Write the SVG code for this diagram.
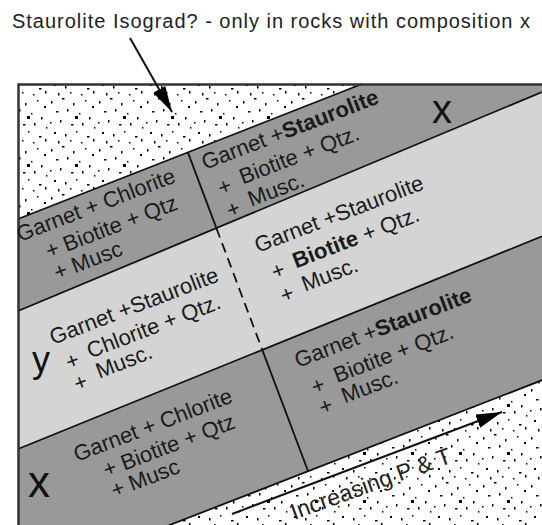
<svg xmlns="http://www.w3.org/2000/svg" width="542" height="525" viewBox="0 0 542 525">
<defs>
<style>
.t{font-family:"Liberation Sans",Arial,sans-serif;font-size:22px;fill:#1a1a1a}
.b{font-weight:bold}
.big{font-family:"Liberation Sans",Arial,sans-serif;fill:#111}
.edge{stroke:#111;stroke-width:1.8;fill:none}
.dark{fill:#999}
.light{fill:#d4d4d4}
.conn{stroke:#111;stroke-width:2;fill:none;marker-end:url(#ah)}
</style>
<pattern id="stip" width="48" height="48" patternUnits="userSpaceOnUse">
<rect width="48" height="48" fill="#fff"/>
<g fill="#000">
<rect x="3" y="5" width="1.5" height="2.5"/><rect x="14" y="2" width="2.5" height="1.5"/><rect x="25" y="7" width="1.5" height="2.5"/><rect x="37" y="4" width="1.5" height="1.5"/><rect x="44" y="10" width="2" height="2"/><rect x="8" y="15" width="2.5" height="1.5"/><rect x="19" y="13" width="1.5" height="2.5"/><rect x="31" y="17" width="1.5" height="1.5"/><rect x="41" y="21" width="1.5" height="2.5"/><rect x="2" y="26" width="1.5" height="1.5"/><rect x="12" y="24" width="1.5" height="2.5"/><rect x="23" y="28" width="2.5" height="1.5"/><rect x="34" y="27" width="1.5" height="2.5"/><rect x="46" y="31" width="1.5" height="1.5"/><rect x="6" y="36" width="2" height="2"/><rect x="17" y="38" width="1.5" height="2.5"/><rect x="28" y="35" width="1.5" height="1.5"/><rect x="39" y="40" width="2.5" height="1.5"/><rect x="10" y="45" width="1.5" height="2.5"/><rect x="22" y="44" width="1.5" height="1.5"/><rect x="33" y="46" width="1.5" height="1.5"/><rect x="45" y="43" width="1.5" height="2.5"/><rect x="27" y="20" width="3" height="3"/>
</g>
</pattern>
<marker id="ah" markerUnits="userSpaceOnUse" markerWidth="26" markerHeight="14" refX="26" refY="7" orient="auto"><path d="M0,0 L26,7 L0,14 z" fill="#000"/></marker>
</defs>
<rect width="542" height="525" fill="#fff"/>
<text x="12" y="28" font-family="Liberation Sans, Arial, sans-serif" font-size="20" fill="#222" textLength="518" lengthAdjust="spacing">Staurolite Isograd? - only in rocks with composition x</text>
<g id="frame-ground"><rect x="18" y="84" width="530" height="450" fill="url(#stip)"/></g>
<g id="band-x-upper"><polygon class="dark" points="18,219 362,84 542,84 542,92 18,311"/></g>
<g id="band-y"><polygon class="light" points="18,311 542,92 542,236.3 18,449"/></g>
<g id="band-x-lower"><polygon class="dark" points="18,449 542,236.3 542,380.2 18,584"/></g>
<g id="boundaries">
<path class="edge" d="M18,219 L362,84 M18,311 L542,92 M18,449 L542,236.3 M18,584 L542,380.2"/>
<path class="edge" d="M187.9,152.4 L216.4,228.1 M262.3,349.9 L308.1,471.2"/>
<path class="edge" stroke-dasharray="10,6" d="M216.4,228.1 L262.3,349.9"/>
</g>
<path d="M18.5,525 V84.5 H542" stroke="#333" stroke-width="2.5" fill="none"/>
<g id="blockA" class="t" transform="translate(20,242) rotate(-21)">
<text>Garnet + Chlorite</text><text x="21" y="26">+ Biotite + Qtz</text><text x="21" y="49">+ Musc</text>
</g>
<g id="blockB" class="t" transform="translate(205,170) rotate(-21)">
<text>Garnet +<tspan class="b">Staurolite</tspan></text>
<text x="6" y="30">+</text><text x="30" y="27">Biotite + Qtz.</text>
<text x="6" y="54">+</text><text x="30" y="51">Musc.</text>
</g>
<g id="blockC" class="t" transform="translate(258,253) rotate(-21)">
<text>Garnet +Staurolite</text>
<text x="6" y="31">+</text><text x="30" y="28"><tspan class="b">Biotite</tspan> + Qtz.</text>
<text x="6" y="56">+</text><text x="30" y="53">Musc.</text>
</g>
<g id="blockD" class="t" transform="translate(53,345) rotate(-21)">
<text>Garnet +Staurolite</text>
<text x="6" y="29">+</text><text x="30" y="26">Chlorite + Qtz.</text>
<text x="6" y="52">+</text><text x="31" y="48">Musc.</text>
</g>
<g id="blockE" class="t" transform="translate(298,368) rotate(-21)">
<text>Garnet +<tspan class="b">Staurolite</tspan></text>
<text x="6" y="31">+</text><text x="31" y="28">Biotite + Qtz.</text>
<text x="6" y="53">+</text><text x="31" y="50">Musc.</text>
</g>
<g id="blockF" class="t" transform="translate(77,462) rotate(-21)">
<text>Garnet + Chlorite</text><text x="22" y="25">+ Biotite + Qtz</text><text x="22" y="47">+ Musc</text>
</g>
<g id="labels">
<text class="big" x="432" y="123" font-size="40">x</text>
<text class="big" x="32" y="372" font-size="36">y</text>
<text class="big" x="28" y="497" font-size="44">x</text>
<text transform="translate(294,520) rotate(-20)" font-family="Liberation Sans, Arial, sans-serif" font-size="23" fill="#222">Increasing P &amp; T</text>
</g>
<g id="connectors">
<line class="conn" x1="130" y1="38" x2="172" y2="112"/>
<line class="conn" x1="232" y1="514" x2="502" y2="412"/>
</g>
</svg>
